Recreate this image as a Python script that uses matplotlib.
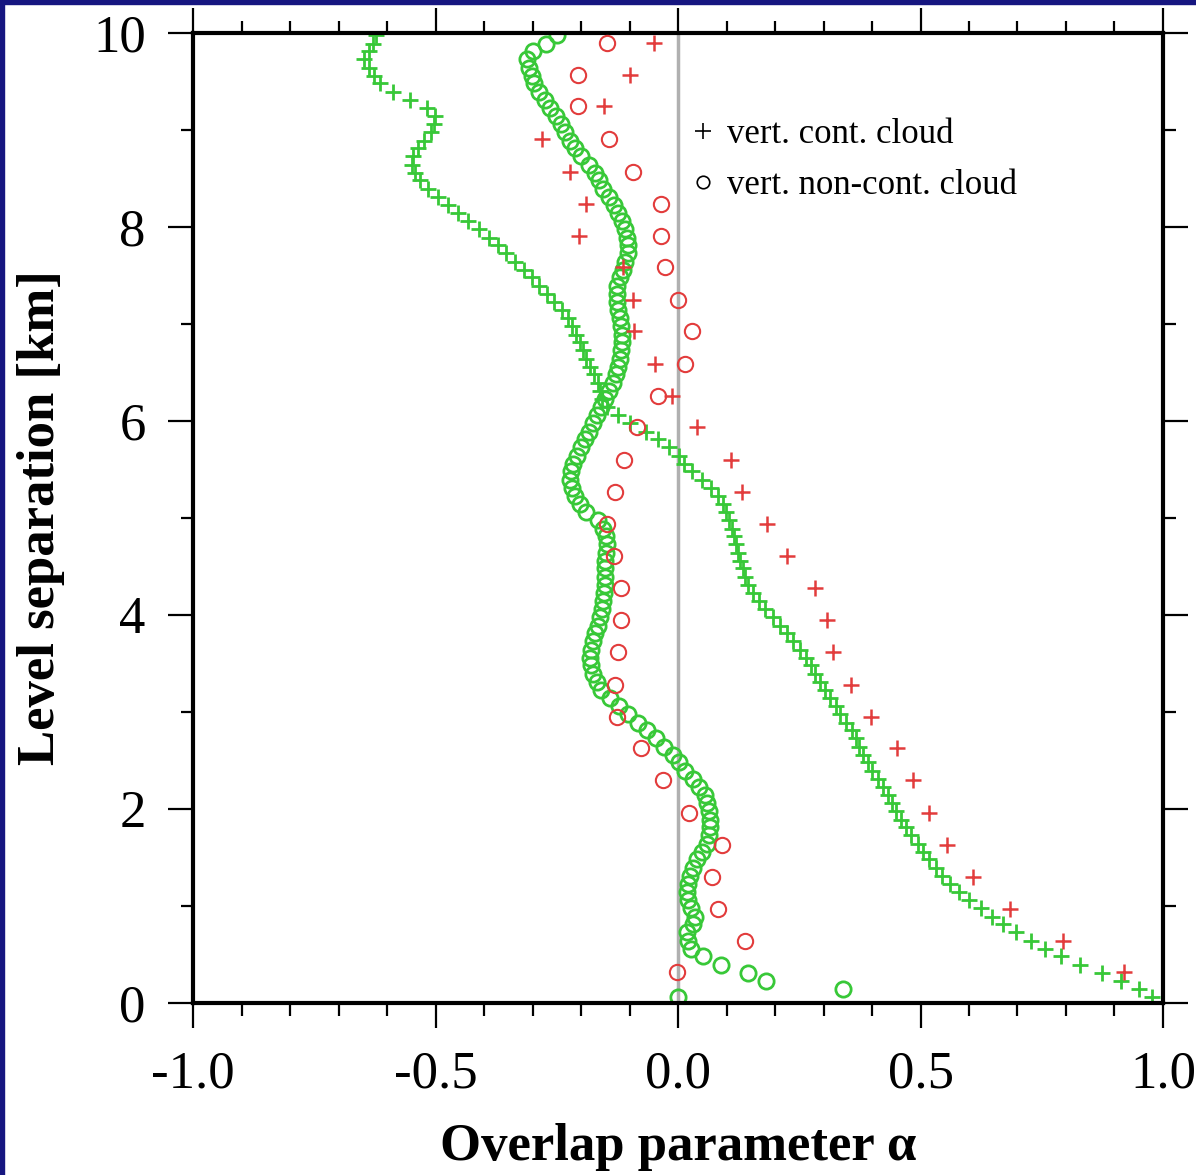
import matplotlib
matplotlib.use('Agg')
import matplotlib.pyplot as plt
from matplotlib.lines import Line2D
from matplotlib.patches import Rectangle

plt.rcParams['font.family'] = ['Liberation Serif', 'DejaVu Serif']
plt.rcParams['axes.unicode_minus'] = False

# coarse levels (red symbols)
y_coarse = [0.32, 0.64, 0.97, 1.30, 1.63, 1.96, 2.30, 2.63, 2.95, 3.28,
            3.62, 3.95, 4.28, 4.61, 4.94, 5.27, 5.60, 5.94, 6.26, 6.59,
            6.93, 7.25, 7.59, 7.91, 8.24, 8.57, 8.91, 9.25, 9.57, 9.90]
red_cont = [0.920, 0.794, 0.685, 0.608, 0.555, 0.518, 0.485, 0.452, 0.398, 0.357,
            0.320, 0.307, 0.282, 0.225, 0.184, 0.132, 0.109, 0.039, -0.012, -0.047,
            -0.091, -0.093, -0.113, -0.204, -0.190, -0.223, -0.280, -0.153, -0.099, -0.049]
red_noncont = [-0.002, 0.138, 0.082, 0.070, 0.091, 0.023, -0.031, -0.076, -0.126, -0.130,
               -0.124, -0.118, -0.118, -0.132, -0.146, -0.130, -0.111, -0.085, -0.041, 0.014,
               0.029, 0.000, -0.027, -0.035, -0.035, -0.093, -0.142, -0.206, -0.206, -0.146]

# fine levels (green symbols)
y_fine = [0.06, 0.14, 0.23, 0.31, 0.39, 0.48, 0.56, 0.64, 0.73, 0.81,
          0.89, 0.98, 1.06, 1.14, 1.23, 1.31, 1.39, 1.48, 1.56, 1.64,
          1.73, 1.81, 1.89, 1.98, 2.06, 2.14, 2.23, 2.31, 2.39, 2.48,
          2.56, 2.64, 2.73, 2.81, 2.89, 2.98, 3.06, 3.14, 3.23, 3.31,
          3.39, 3.48, 3.56, 3.64, 3.73, 3.81, 3.89, 3.98, 4.06, 4.14,
          4.23, 4.31, 4.39, 4.48, 4.56, 4.64, 4.73, 4.81, 4.89, 4.98,
          5.06, 5.14, 5.23, 5.31, 5.39, 5.48, 5.56, 5.64, 5.73, 5.81,
          5.89, 5.98, 6.06, 6.14, 6.23, 6.31, 6.39, 6.48, 6.56, 6.64,
          6.73, 6.81, 6.89, 6.98, 7.06, 7.14, 7.23, 7.31, 7.39, 7.48,
          7.56, 7.64, 7.73, 7.81, 7.89, 7.98, 8.06, 8.14, 8.23, 8.31,
          8.39, 8.48, 8.56, 8.64, 8.73, 8.81, 8.89, 8.98, 9.06, 9.14,
          9.23, 9.31, 9.39, 9.48, 9.56, 9.64, 9.73, 9.81, 9.89, 9.98]
green_cont = [0.977, 0.950, 0.914, 0.874, 0.829, 0.789, 0.756, 0.727, 0.697, 0.671,
              0.648, 0.625, 0.600, 0.579, 0.561, 0.545, 0.532, 0.517, 0.505, 0.494,
              0.481, 0.470, 0.460, 0.450, 0.442, 0.434, 0.423, 0.412, 0.401, 0.391,
              0.381, 0.373, 0.368, 0.359, 0.347, 0.335, 0.325, 0.314, 0.303, 0.293,
              0.283, 0.274, 0.264, 0.251, 0.238, 0.225, 0.211, 0.195, 0.179, 0.166,
              0.155, 0.145, 0.138, 0.133, 0.128, 0.124, 0.120, 0.116, 0.111, 0.105,
              0.099, 0.093, 0.082, 0.068, 0.050, 0.028, 0.012, 0.002, -0.018, -0.042,
              -0.066, -0.098, -0.124, -0.146, -0.157, -0.160, -0.165, -0.173, -0.181, -0.189,
              -0.196, -0.203, -0.211, -0.218, -0.226, -0.240, -0.255, -0.271, -0.287, -0.302,
              -0.318, -0.336, -0.355, -0.372, -0.390, -0.411, -0.433, -0.453, -0.474, -0.495,
              -0.515, -0.532, -0.543, -0.548, -0.546, -0.537, -0.523, -0.510, -0.503, -0.501,
              -0.518, -0.553, -0.588, -0.614, -0.627, -0.638, -0.648, -0.637, -0.628, -0.622]
green_noncont = [0.000, 0.340, 0.181, 0.144, 0.089, 0.052, 0.027, 0.020, 0.019, 0.030,
                 0.034, 0.026, 0.021, 0.019, 0.020, 0.024, 0.030, 0.040, 0.050, 0.059,
                 0.064, 0.066, 0.066, 0.063, 0.060, 0.055, 0.043, 0.030, 0.015, 0.003,
                 -0.010, -0.028, -0.046, -0.064, -0.082, -0.103, -0.122, -0.141, -0.158, -0.168,
                 -0.176, -0.180, -0.181, -0.179, -0.176, -0.171, -0.166, -0.160, -0.156, -0.154,
                 -0.152, -0.151, -0.151, -0.151, -0.150, -0.148, -0.147, -0.148, -0.154, -0.166,
                 -0.190, -0.203, -0.212, -0.218, -0.222, -0.221, -0.216, -0.209, -0.200, -0.192,
                 -0.184, -0.175, -0.167, -0.159, -0.151, -0.142, -0.134, -0.128, -0.123, -0.120,
                 -0.118, -0.116, -0.115, -0.117, -0.120, -0.124, -0.126, -0.126, -0.125, -0.120,
                 -0.114, -0.109, -0.104, -0.103, -0.105, -0.110, -0.115, -0.123, -0.132, -0.143,
                 -0.154, -0.163, -0.172, -0.183, -0.200, -0.212, -0.222, -0.233, -0.242, -0.252,
                 -0.264, -0.275, -0.286, -0.296, -0.302, -0.308, -0.311, -0.300, -0.272, -0.249]

green = '#38c838'
red = '#e23c3c'

fig = plt.figure(figsize=(11.96, 11.75), dpi=100)
ax = fig.add_axes([0.1614, 0.1464, 0.8110, 0.8255])

ax.axvline(0, color='#b0b0b0', lw=2.5, zorder=1)

ax.plot(green_cont, y_fine, ls='none', marker='+', ms=12, mew=2.0, color=green, zorder=2)
ax.plot(green_noncont, y_fine, ls='none', marker='o', ms=11, mew=2.0, mfc='none', mec=green, zorder=2)
ax.plot(red_cont, y_coarse, ls='none', marker='+', ms=12, mew=1.8, color=red, zorder=3)
ax.plot(red_noncont, y_coarse, ls='none', marker='o', ms=11, mew=1.5, mfc='none', mec=red, zorder=3)

ax.set_xlim(-1, 1)
ax.set_ylim(0, 10)
ax.set_xticks([-1.0, -0.5, 0.0, 0.5, 1.0])
ax.set_xticklabels(['-1.0', '-0.5', '0.0', '0.5', '1.0'])
ax.set_xticks([-0.9, -0.8, -0.7, -0.6, -0.4, -0.3, -0.2, -0.1,
               0.1, 0.2, 0.3, 0.4, 0.6, 0.7, 0.8, 0.9], minor=True)
ax.set_yticks([0, 2, 4, 6, 8, 10])
ax.set_yticks([1, 3, 5, 7, 9], minor=True)

ax.tick_params(which='both', direction='out', top=True, right=True, width=1.6, colors='black')
ax.tick_params(which='major', length=18, labelsize=38, pad=16)
ax.tick_params(which='minor', length=9)
for s in ax.spines.values():
    s.set_linewidth(3)

ax.set_xlabel('Overlap parameter α', fontsize=38, fontweight='bold', labelpad=18)
ax.set_ylabel('Level separation [km]', fontsize=38, fontweight='bold', labelpad=20)

handles = [Line2D([], [], ls='none', marker='+', ms=12, mew=1.2, color='black'),
           Line2D([], [], ls='none', marker='o', ms=9, mew=1.2, mfc='none', mec='black')]
ax.legend(handles, ['vert. cont. cloud', 'vert. non-cont. cloud'],
          loc='upper left', bbox_to_anchor=(0.508, 0.912), frameon=False,
          fontsize=25, handlelength=1.0, handletextpad=0.2, labelspacing=0.5,
          borderpad=0, borderaxespad=0)

# dark blue band along the left and top edges of the slide
fig.patches.append(Rectangle((0, 0), 4 / 1196, 1, transform=fig.transFigure,
                             color='#161680', zorder=10))
fig.patches.append(Rectangle((0, 1 - 4 / 1175), 1, 4 / 1175, transform=fig.transFigure,
                             color='#161680', zorder=10))

fig.savefig('out.png', dpi=100)
